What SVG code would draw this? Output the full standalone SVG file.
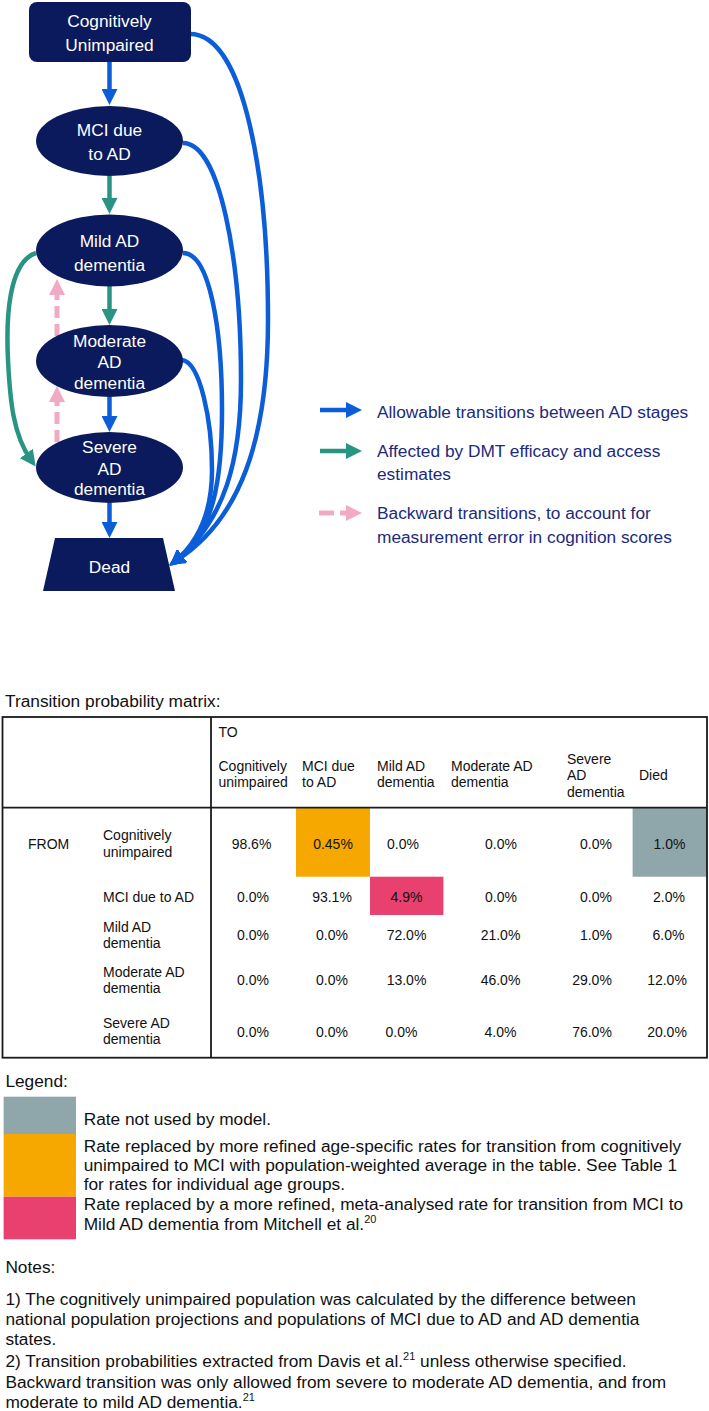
<svg xmlns="http://www.w3.org/2000/svg" width="709" height="1411" viewBox="0 0 709 1411">
<style>
text{font-family:"Liberation Sans",Arial,sans-serif}
.node{fill:#0a1a5c}
.nt{font-size:17.3px;fill:#ffffff;text-anchor:middle}
.blue{fill:none;stroke:#0b5ed7;stroke-width:4.5}
.teal{fill:none;stroke:#2a9484;stroke-width:4.5}
.pink{fill:none;stroke:#f2a9c4;stroke-width:5;stroke-dasharray:12 6}
.lg{font-size:17.3px;fill:#1c2a7c}
.big{font-size:17.3px;fill:#111}
.tb{font-size:14px;fill:#111}
.num{font-size:14px;fill:#111;text-anchor:middle}
.grid{stroke:#1a1a1a;stroke-width:1.8;fill:none}
</style>
<defs>
<marker id="mb" markerUnits="userSpaceOnUse" markerWidth="16" markerHeight="16" viewBox="0 0 16 16" refX="8" refY="8" orient="auto"><path d="M0,0 L16,8 L0,16 z" fill="#0b5ed7"/></marker>
<marker id="mt" markerUnits="userSpaceOnUse" markerWidth="16" markerHeight="16" viewBox="0 0 16 16" refX="8" refY="8" orient="auto"><path d="M0,0 L16,8 L0,16 z" fill="#2a9484"/></marker>
<marker id="mp" markerUnits="userSpaceOnUse" markerWidth="16" markerHeight="16" viewBox="0 0 16 16" refX="8" refY="8" orient="auto"><path d="M0,0 L16,8 L0,16 z" fill="#f2a9c4"/></marker>
</defs>
<rect width="709" height="1411" fill="#ffffff"/>

<g id="connectors">
<path class="blue" d="M109.5,62 L109.5,97" marker-end="url(#mb)"/>
<path class="teal" d="M109.5,176 L109.5,206" marker-end="url(#mt)"/>
<path class="teal" d="M109.5,286 L109.5,317" marker-end="url(#mt)"/>
<path class="blue" d="M109.5,397 L109.5,424" marker-end="url(#mb)"/>
<path class="blue" d="M109.5,503 L109.5,530" marker-end="url(#mb)"/>
<path class="blue" d="M190,34 C245,34 268,180 268,320 C268,440 240,520 175.8,560.8" marker-end="url(#mb)"/>
<path class="blue" d="M183,143 C220,143 241,260 241,380 C241,460 225,520 175.8,560.8" marker-end="url(#mb)"/>
<path class="blue" d="M183,253 C210,253 222,330 222,410 C222,480 214,532 175.8,560.8" marker-end="url(#mb)"/>
<path class="blue" d="M182,360 C200,362 212,420 212,470 C212,510 200,540 175.8,560.8" marker-end="url(#mb)"/>
<path class="teal" d="M36,253 C8,262 6,320 8,360 C10,400 13,435 31,460" marker-end="url(#mt)"/>
<path class="pink" d="M57,442 L57,394" marker-end="url(#mp)"/>
<path class="pink" d="M57,336 L57,287" marker-end="url(#mp)"/>
</g>

<g id="n-cu">
<rect class="node" x="29" y="2" width="162" height="60" rx="8"/>
<text class="nt" x="109.5" y="27">Cognitively</text>
<text class="nt" x="109.5" y="51">Unimpaired</text>
</g>
<g id="n-mci">
<ellipse class="node" cx="109.5" cy="141" rx="73.5" ry="35"/>
<text class="nt" x="109.5" y="136">MCI due</text>
<text class="nt" x="109.5" y="160">to AD</text>
</g>
<g id="n-mild">
<ellipse class="node" cx="109.5" cy="250.5" rx="73.5" ry="36"/>
<text class="nt" x="109.5" y="247">Mild AD</text>
<text class="nt" x="109.5" y="271">dementia</text>
</g>
<g id="n-moderate">
<ellipse class="node" cx="109.5" cy="361" rx="73.5" ry="36"/>
<text class="nt" x="109.5" y="347">Moderate</text>
<text class="nt" x="109.5" y="368">AD</text>
<text class="nt" x="109.5" y="389">dementia</text>
</g>
<g id="n-severe">
<ellipse class="node" cx="109.5" cy="467.5" rx="73.5" ry="35.5"/>
<text class="nt" x="109.5" y="453">Severe</text>
<text class="nt" x="109.5" y="475">AD</text>
<text class="nt" x="109.5" y="495">dementia</text>
</g>
<g id="n-dead">
<polygon class="node" points="55,538 163,538 175,591 43,591"/>
<text class="nt" x="109.5" y="573">Dead</text>
</g>

<g id="legend-arrows">
<path class="blue" d="M320,410 L354,410" marker-end="url(#mb)"/>
<text class="lg" x="377" y="418">Allowable transitions between AD stages</text>
<path class="teal" d="M320,451 L354,451" marker-end="url(#mt)"/>
<text class="lg" x="377" y="457">Affected by DMT efficacy and access</text>
<text class="lg" x="377" y="480">estimates</text>
<path class="pink" d="M319,513 L354,513" style="stroke-dasharray:15 6" marker-end="url(#mp)"/>
<text class="lg" x="377" y="519">Backward transitions, to account for</text>
<text class="lg" x="377" y="543">measurement error in cognition scores</text>
</g>

<g id="matrix">
<text class="big" x="5" y="707">Transition probability matrix:</text>
<rect x="296" y="807.7" width="74" height="69" fill="#f6a800"/>
<rect x="632.6" y="807.7" width="74.4" height="69" fill="#8fa6aa"/>
<rect x="370" y="876.7" width="73.4" height="38.3" fill="#e8416f"/>
<rect class="grid" x="2.5" y="717" width="704.5" height="340.7"/>
<line class="grid" x1="2.5" y1="807.7" x2="707" y2="807.7"/>
<line class="grid" x1="211" y1="717" x2="211" y2="1057.7"/>
<text class="tb" x="218.5" y="737">TO</text>
<text class="tb" x="218.5" y="770.5">Cognitively</text>
<text class="tb" x="218.5" y="787">unimpaired</text>
<text class="tb" x="302" y="770.5">MCI due</text>
<text class="tb" x="302" y="787">to AD</text>
<text class="tb" x="377" y="770.5">Mild AD</text>
<text class="tb" x="377" y="787">dementia</text>
<text class="tb" x="451" y="770.5">Moderate AD</text>
<text class="tb" x="451" y="787">dementia</text>
<text class="tb" x="567" y="763.5">Severe</text>
<text class="tb" x="567" y="780">AD</text>
<text class="tb" x="567" y="796.5">dementia</text>
<text class="tb" x="639" y="780">Died</text>

<text class="tb" x="28" y="848.7">FROM</text>
<text class="tb" x="103" y="840">Cognitively</text>
<text class="tb" x="103" y="856.5">unimpaired</text>
<text class="tb" x="103" y="901.7">MCI due to AD</text>
<text class="tb" x="103" y="931.7">Mild AD</text>
<text class="tb" x="103" y="947.5">dementia</text>
<text class="tb" x="103" y="976.7">Moderate AD</text>
<text class="tb" x="103" y="992.5">dementia</text>
<text class="tb" x="103" y="1028.3">Severe AD</text>
<text class="tb" x="103" y="1044.3">dementia</text>

<g id="row1">
<text class="num" x="251.5" y="848.7">98.6%</text>
<text class="num" x="333" y="848.7">0.45%</text>
<text class="num" x="403" y="848.7">0.0%</text>
<text class="num" x="501" y="848.7">0.0%</text>
<text class="num" x="596" y="848.7">0.0%</text>
<text class="num" x="669.5" y="848.7">1.0%</text>
</g>
<g id="row2">
<text class="num" x="253" y="901.7">0.0%</text>
<text class="num" x="332" y="901.7">93.1%</text>
<text class="num" x="406.5" y="901.7">4.9%</text>
<text class="num" x="501" y="901.7">0.0%</text>
<text class="num" x="596" y="901.7">0.0%</text>
<text class="num" x="669" y="901.7">2.0%</text>
</g>
<g id="row3">
<text class="num" x="253" y="940">0.0%</text>
<text class="num" x="332" y="940">0.0%</text>
<text class="num" x="406.5" y="940">72.0%</text>
<text class="num" x="500.5" y="940">21.0%</text>
<text class="num" x="596" y="940">1.0%</text>
<text class="num" x="668.5" y="940">6.0%</text>
</g>
<g id="row4">
<text class="num" x="253" y="985">0.0%</text>
<text class="num" x="332" y="985">0.0%</text>
<text class="num" x="406.5" y="985">13.0%</text>
<text class="num" x="500.5" y="985">46.0%</text>
<text class="num" x="592" y="985">29.0%</text>
<text class="num" x="667" y="985">12.0%</text>
</g>
<g id="row5">
<text class="num" x="253" y="1036.7">0.0%</text>
<text class="num" x="332" y="1036.7">0.0%</text>
<text class="num" x="401.5" y="1036.7">0.0%</text>
<text class="num" x="500.5" y="1036.7">4.0%</text>
<text class="num" x="592" y="1036.7">76.0%</text>
<text class="num" x="667" y="1036.7">20.0%</text>
</g>
</g>

<g id="matrix-legend">
<text class="big" x="5.4" y="1087">Legend:</text>
<rect x="3.6" y="1096.7" width="72.4" height="37.3" fill="#8fa6aa"/>
<rect x="3.6" y="1134" width="72.4" height="62.7" fill="#f6a800"/>
<rect x="3.6" y="1196.7" width="72.4" height="42.6" fill="#e8416f"/>
<text class="big" x="83.7" y="1125">Rate not used by model.</text>
<text class="big" x="83.7" y="1151.5">Rate replaced by more refined age-specific rates for transition from cognitively</text>
<text class="big" x="83.7" y="1171">unimpaired to MCI with population-weighted average in the table. See Table 1</text>
<text class="big" x="83.7" y="1190">for rates for individual age groups.</text>
<text class="big" x="83.7" y="1210">Rate replaced by a more refined, meta-analysed rate for transition from MCI to</text>
<text class="big" x="83.7" y="1230">Mild AD dementia from Mitchell et al.<tspan font-size="11" dy="-7">20</tspan></text>
</g>

<g id="notes">
<text class="big" x="5.4" y="1273">Notes:</text>
<text class="big" x="5.4" y="1305">1) The cognitively unimpaired population was calculated by the difference between</text>
<text class="big" x="5.4" y="1325">national population projections and populations of MCI due to AD and AD dementia</text>
<text class="big" x="5.4" y="1345">states.</text>
<text class="big" x="5.4" y="1366.5">2) Transition probabilities extracted from Davis et al.<tspan font-size="11" dy="-7">21</tspan><tspan dy="7"> unless otherwise specified.</tspan></text>
<text class="big" x="5.4" y="1388">Backward transition was only allowed from severe to moderate AD dementia, and from</text>
<text class="big" x="5.4" y="1408">moderate to mild AD dementia.<tspan font-size="11" dy="-7">21</tspan></text>
</g>
</svg>
